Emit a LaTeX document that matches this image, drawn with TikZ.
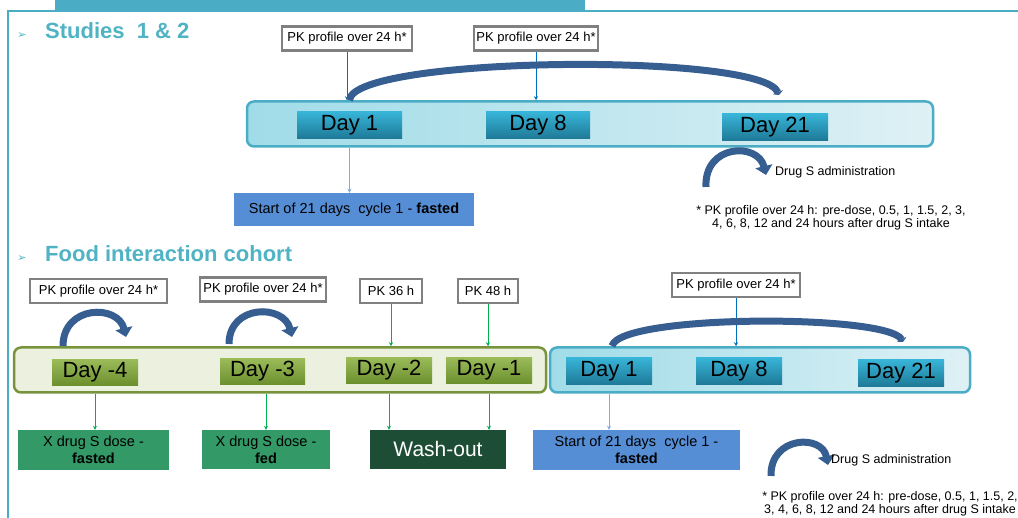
\documentclass[tikz,border=0pt]{standalone}
\usepackage{fontspec}
\setmainfont{Liberation Sans}
\newfontfamily\symfont{DejaVu Sans}
\usepackage{tikz}
\usetikzlibrary{arrows.meta}
\definecolor{frame teal}{RGB}{75,172,198}
\definecolor{head teal}{RGB}{79,179,196}
\definecolor{pk gray}{RGB}{128,128,128}
\definecolor{bar left}{RGB}{160,220,232}
\definecolor{bar right}{RGB}{222,241,245}
\definecolor{day teal top}{RGB}{55,180,215}
\definecolor{day teal bottom}{RGB}{30,120,150}
\definecolor{arrow blue}{RGB}{54,94,145}
\definecolor{link blue}{RGB}{0,112,192}
\definecolor{light link}{RGB}{130,170,225}
\definecolor{start blue}{RGB}{85,142,213}
\definecolor{link green}{RGB}{0,176,80}
\definecolor{bar green}{RGB}{119,147,60}
\definecolor{bar green light}{RGB}{235,241,222}
\definecolor{day green top}{RGB}{155,187,89}
\definecolor{day green bottom}{RGB}{108,143,45}
\definecolor{dose green}{RGB}{51,153,102}
\definecolor{wash green}{RGB}{29,77,52}

\begin{document}
\begin{tikzpicture}[x=1pt, y=1pt,
	pkbox/.style = {draw = pk gray, line width = 2.2pt, fill = white, inner sep = 0pt,
		minimum height = 24pt, font = \fontsize{13}{15}\selectfont},
	tealbar/.style = {draw = frame teal, line width = 2.5pt, rounded corners = 7pt,
		left color = bar left, right color = bar right, inner sep = 0pt, minimum height = 45pt},
	greenbar/.style = {draw = bar green, line width = 2.5pt, rounded corners = 7pt,
		fill = bar green light, inner sep = 0pt, minimum height = 45pt},
	tealday/.style = {top color = day teal top, bottom color = day teal bottom, inner sep = 0pt,
		minimum height = 27pt, font = \fontsize{22}{24}\selectfont},
	greenday/.style = {top color = day green top, bottom color = day green bottom, inner sep = 0pt,
		minimum height = 26pt, font = \fontsize{22}{24}\selectfont},
	infobox/.style = {inner sep = 0pt, align = center, font = \fontsize{14.5}{17}\selectfont},
	heading/.style = {anchor = base west, inner sep = 0pt, text = head teal,
		font = \fontsize{22}{24}\selectfont\bfseries},
	bulletmark/.style = {inner sep = 0pt, text = head teal, font = \symfont\fontsize{11}{11}\selectfont},
	note/.style = {inner sep = 0pt, align = center, font = \fontsize{12.5}{13.5}\selectfont},
	link/.style = {draw = link blue, line width = 0.8pt, -{Stealth[length = 4pt, width = 4pt]}},
	lightlink/.style = {draw = light link, line width = 0.8pt, -{Stealth[length = 4pt, width = 4pt]}},
	greenlink/.style = {draw = link green, line width = 0.8pt, -{Stealth[length = 4pt, width = 4pt]}},
	cyclearrow/.style = {draw = arrow blue, line width = 7pt, -{Triangle[width = 11pt, length = 3pt]}},
	dosearrow/.style = {draw = arrow blue, line width = 7pt, -{Triangle[width = 17pt, length = 9pt]}}]
	\useasboundingbox (0, 0) rectangle (1018, 518);
	% frame and title banner
	\fill[frame teal] (55, 506) rectangle (585, 518);
	\draw[frame teal, line width = 2pt] (8, 0) -- (8, 507) -- (1018, 507);

	% Part for studies 1 & 2
	\node[bulletmark] (bulletA) at (22, 482) {➢};
	\node[heading] (studies) at (45, 479) {Studies\ \ 1 \& 2};
	\node[pkbox, minimum width = 130pt] (pkA) at (347, 479.5) {PK profile over 24 h*};
	\node[pkbox, minimum width = 124pt] (pkB) at (536, 479.5) {PK profile over 24 h*};
	\node[tealbar, minimum width = 686pt] (barA) at (590, 394) {};
	\node[tealday, minimum width = 105pt] (dayA1) at (349.5, 392.5) {Day 1};
	\node[tealday, minimum width = 104pt] (dayA8) at (538, 392.5) {Day 8};
	\node[tealday, minimum width = 106pt] (dayA21) at (775, 390.5) {Day 21};
	\node[infobox, fill = start blue, minimum width = 240pt, minimum height = 33pt] (startA) at (354, 308.5)
		{Start of 21 days\ \ cycle 1 - \textbf{fasted}};
	\draw[link] (pkA.south) -- (pkA.south |- barA.north);
	\draw[link] (pkB.south) -- (pkB.south |- barA.north);
	\draw[lightlink] (dayA1 |- barA.south) -- (dayA1 |- startA.north);
	\coordinate (cycA end) at (779, 423);
	\draw[cyclearrow] (dayA1 |- barA.north) .. controls (352, 462) and (762, 466) .. (cycA end);
	% legend
	\draw[dosearrow] (706, 331) .. controls (704, 374) and (758, 376) .. (766, 343);
	\node[note, anchor = west] (legendA) at (775, 346) {Drug S administration};
	\node[note] (footA) at (831, 300) {* PK profile over 24 h: pre-dose, 0.5, 1, 1.5, 2, 3,\\
		4, 6, 8, 12 and 24 hours after drug S intake};

	% Part for food interaction cohort
	\node[bulletmark] (bulletB) at (22, 259) {➢};
	\node[heading] (food) at (45, 256) {Food interaction cohort};
	\node[pkbox, minimum width = 137pt] (pkC) at (98.5, 227) {PK profile over 24 h*};
	\node[pkbox, minimum width = 126pt] (pkD) at (263, 228.5) {PK profile over 24 h*};
	\node[pkbox, minimum width = 62pt] (pk36) at (391, 227) {PK 36 h};
	\node[pkbox, minimum width = 60pt] (pk48) at (488, 227) {PK 48 h};
	\node[pkbox, minimum width = 128pt] (pkE) at (736, 233) {PK profile over 24 h*};
	\node[greenbar, minimum width = 532pt] (barB) at (280, 148) {};
	\node[tealbar, minimum width = 420pt] (barC) at (760, 148) {};
	\node[greenday, minimum width = 86pt] (dayBm4) at (95, 145.5) {Day -4};
	\node[greenday, minimum width = 85pt] (dayBm3) at (262.5, 146.5) {Day -3};
	\node[greenday, minimum width = 86pt] (dayBm2) at (389, 147.5) {Day -2};
	\node[greenday, minimum width = 86pt] (dayBm1) at (489, 147.5) {Day -1};
	\node[tealday, minimum width = 86pt] (dayC1) at (609, 146.5) {Day 1};
	\node[tealday, minimum width = 86pt] (dayC8) at (739, 146.5) {Day 8};
	\node[tealday, minimum width = 86pt] (dayC21) at (901, 144.5) {Day 21};
	\node[infobox, fill = dose green, minimum width = 151pt, minimum height = 40pt] (doseFasted) at (93.5, 68)
		{X drug S dose -\\ \textbf{fasted}};
	\node[infobox, fill = dose green, minimum width = 128pt, minimum height = 39pt] (doseFed) at (266, 68.5)
		{X drug S dose -\\ \textbf{fed}};
	\node[infobox, fill = wash green, text = white, minimum width = 136pt, minimum height = 39pt,
		font = \fontsize{21}{23}\selectfont] (wash) at (438, 68.5) {Wash-out};
	\node[infobox, fill = start blue, minimum width = 207pt, minimum height = 40pt] (startC) at (636.5, 68)
		{Start of 21 days\ \ cycle 1 -\\ \textbf{fasted}};
	% connectors
	\draw[greenlink] (pk36.south) -- (pk36.south |- barB.north);
	\draw[greenlink] (pk48.south) -- (pk48.south |- barB.north);
	\draw[link] (pkE.south) -- (pkE.south |- barC.north);
	\draw[greenlink] (dayBm4 |- barB.south) -- (dayBm4 |- doseFasted.north);
	\draw[greenlink] (doseFed |- barB.south) -- (doseFed.north);
	\draw[greenlink] (dayBm2 |- barB.south) -- (dayBm2 |- wash.north);
	\draw[greenlink] (dayBm1 |- barB.south) -- (dayBm1 |- wash.north);
	\draw[lightlink] (dayC1 |- barC.south) -- (dayC1 |- startC.north);
	% dose arrows over days -4 and -3
	\draw[dosearrow] (63, 172) .. controls (63, 213) and (118, 214) .. (126, 181);
	\draw[dosearrow] (229, 174) .. controls (229, 214) and (284, 214) .. (292, 181);
	\coordinate (cycC end) at (903, 176);
	\draw[cyclearrow] (612, 172) .. controls (620, 204) and (888, 204) .. (cycC end);
	% legend
	\draw[dosearrow] (771, 42) .. controls (770, 82) and (822, 84) .. (828, 53);
	\node[note, anchor = west] (legendC) at (831, 58) {Drug S administration};
	\node[note] (footC) at (890, 14) {* PK profile over 24 h: pre-dose, 0.5, 1, 1.5, 2,\\
		3, 4, 6, 8, 12 and 24 hours after drug S intake};
\end{tikzpicture}
\end{document}
